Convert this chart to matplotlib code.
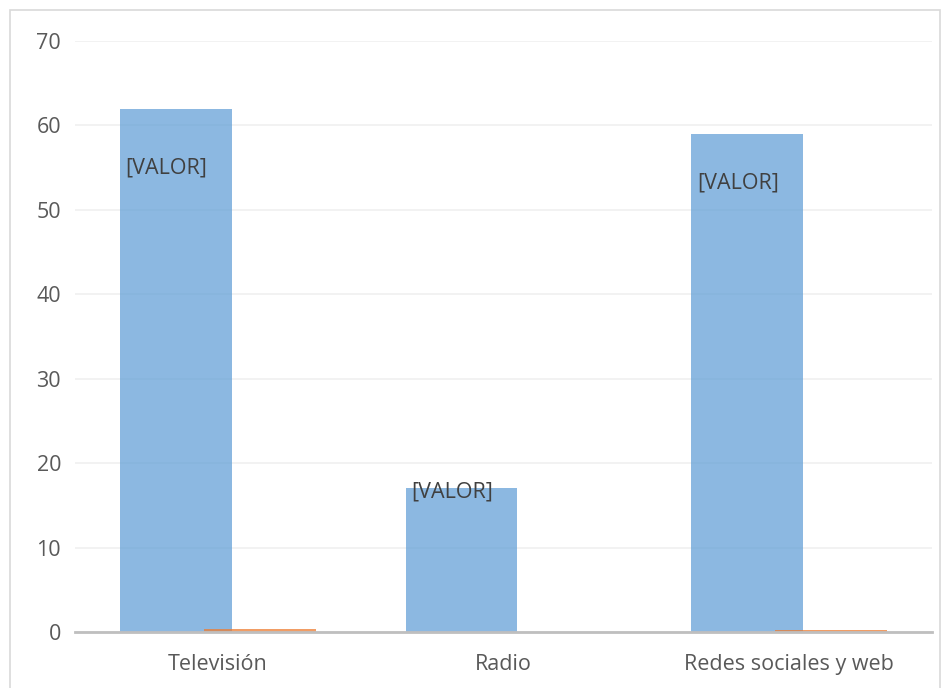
import matplotlib.pyplot as plt
import numpy as np
from matplotlib.patches import Rectangle

plt.rcParams['font.family'] = ['Open Sans', 'DejaVu Sans']

categorias = ['Televisión', 'Radio', 'Redes sociales y web']
serie1 = [62, 17, 59]
serie2 = [0.3, 0, 0.25]
etiquetas = ['[VALOR]', '[VALOR]', '[VALOR]']
etiq_y = [55, 16.6, 53.2]

fig = plt.figure(figsize=(9.46, 6.88), dpi=100)
ax = fig.add_axes([75/946, 1-632/688, 857/946, (632-41)/688])

x = np.arange(len(categorias))
w = 0.392
off = 0.147
ax.bar(x - off, serie1, w, color='#5B9BD5', alpha=0.7, zorder=2)
ax.bar(x + off, serie2, w, color='#ED7D31', alpha=0.75, zorder=3)

for i in range(len(categorias)):
    ax.text(x[i] - off - w/2 + 0.02, etiq_y[i], etiquetas[i], fontsize=15.5,
            color='#404040', va='center', ha='left', zorder=4)

ax.set_xlim(-0.5, 2.5)
ax.set_ylim(0, 70)
ax.set_yticks(np.arange(0, 71, 10))
ax.set_xticks(x)
ax.set_xticklabels(categorias)
ax.yaxis.grid(True, color='#F0F0F0', linewidth=1.2, zorder=0)
ax.set_axisbelow(True)
for s in ['top', 'right', 'left']:
    ax.spines[s].set_visible(False)
ax.spines['bottom'].set_color('#BFBFBF')
ax.spines['bottom'].set_linewidth(2)
ax.spines['bottom'].set_zorder(5)
ax.tick_params(axis='both', length=0, labelsize=15.5, labelcolor='#595959')
ax.tick_params(axis='x', pad=16)
ax.tick_params(axis='y', pad=10)

# borde del grafico
fig.patches.append(Rectangle((10/946, -0.01), 930/946, 1 - 10/688 + 0.01,
                             transform=fig.transFigure, fill=False,
                             edgecolor='#D9D9D9', linewidth=1.2))

fig.savefig('out.png', dpi=100)
